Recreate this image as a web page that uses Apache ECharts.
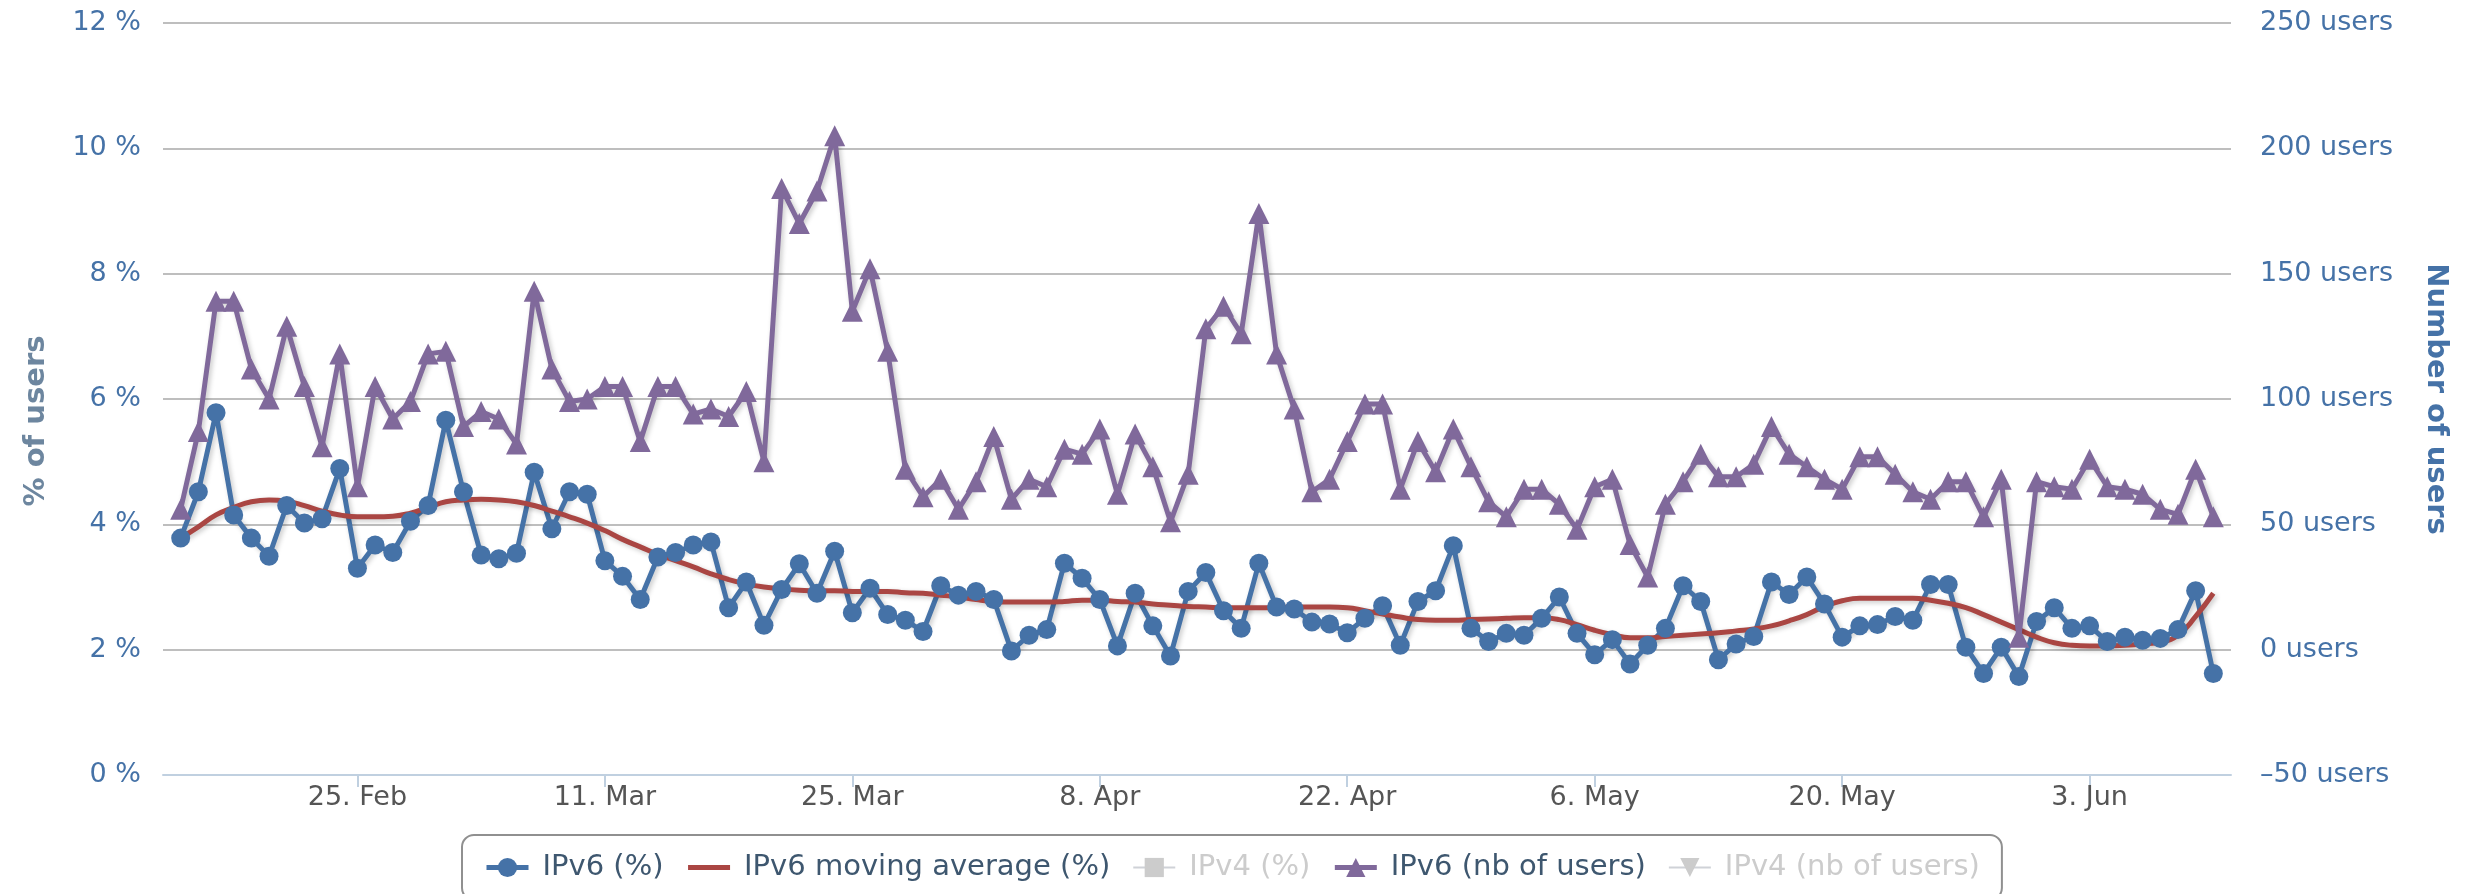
<!DOCTYPE html>
<html>
<head>
<meta charset="UTF-8">
<title>IPv6 users</title>
<style>
    html, body { margin: 0; padding: 0; background: #fff; }
    #chart { width: 2476px; height: 894px; }
</style>
<script src="https://cdn.jsdelivr.net/npm/echarts@6/dist/echarts.min.js"></script>
</head>
<body>
<div id="chart"></div>
<script>
    // one point per day, 15 Feb -> 10 Jun 2013
    // the axis runs one day wider on each side
    var firstDay = Date.UTC(2013, 1, 14);
    var dayCount = 118;

    var tickDates = ['2013-02-25', '2013-03-11', '2013-03-25', '2013-04-08', '2013-04-22', '2013-05-06', '2013-05-20', '2013-06-03'];
    var tickLabels = ['25. Feb', '11. Mar', '25. Mar', '8. Apr', '22. Apr', '6. May', '20. May', '3. Jun'];

    var ipv6Pct = [
        3.78, 4.52, 5.78, 4.15, 3.78, 3.49, 4.30, 4.02, 4.09, 4.89, 3.30, 3.67, 3.55, 4.05, 4.30, 5.66, 4.52, 3.51, 3.45, 3.54,
        4.83, 3.93, 4.52, 4.48, 3.42, 3.17, 2.80, 3.48, 3.55, 3.67, 3.72, 2.67, 3.08, 2.39, 2.96, 3.37, 2.90, 3.57, 2.59, 2.98,
        2.56, 2.47, 2.29, 3.02, 2.87, 2.93, 2.80, 1.98, 2.23, 2.32, 3.38, 3.14, 2.80, 2.06, 2.90, 2.38, 1.90, 2.93, 3.23, 2.62,
        2.34, 3.38, 2.68, 2.65, 2.44, 2.41, 2.27, 2.50, 2.70, 2.07, 2.77, 2.94, 3.66, 2.34, 2.13, 2.26, 2.23, 2.50, 2.84, 2.26,
        1.92, 2.16, 1.77, 2.07, 2.34, 3.02, 2.77, 1.84, 2.09, 2.21, 3.08, 2.88, 3.16, 2.73, 2.20, 2.38, 2.40, 2.53, 2.47, 3.04,
        3.04, 2.04, 1.62, 2.04, 1.57, 2.45, 2.67, 2.34, 2.38, 2.13, 2.20, 2.15, 2.18, 2.32, 2.94, 1.62
    ];

    var ipv6Avg = [
        3.78, 3.96, 4.15, 4.27, 4.36, 4.39, 4.37, 4.30, 4.21, 4.15, 4.12, 4.12, 4.13, 4.18, 4.27, 4.36, 4.39, 4.40, 4.39, 4.36,
        4.30, 4.21, 4.12, 4.02, 3.90, 3.76, 3.64, 3.52, 3.42, 3.32, 3.21, 3.12, 3.05, 3.00, 2.97, 2.95, 2.94, 2.94, 2.93, 2.93,
        2.93, 2.91, 2.90, 2.87, 2.84, 2.80, 2.77, 2.76, 2.76, 2.76, 2.77, 2.79, 2.79, 2.77, 2.76, 2.73, 2.71, 2.69, 2.68, 2.67,
        2.67, 2.67, 2.67, 2.68, 2.68, 2.68, 2.67, 2.62, 2.57, 2.52, 2.48, 2.47, 2.47, 2.48, 2.49, 2.50, 2.51, 2.51, 2.48, 2.40,
        2.31, 2.24, 2.19, 2.19, 2.21, 2.23, 2.25, 2.27, 2.30, 2.33, 2.38, 2.46, 2.56, 2.69, 2.78, 2.82, 2.82, 2.82, 2.82, 2.79,
        2.74, 2.67, 2.56, 2.44, 2.32, 2.20, 2.11, 2.07, 2.06, 2.06, 2.07, 2.09, 2.12, 2.23, 2.53, 2.90
    ];

    var ipv6Users = [
        56, 87, 139, 139, 112, 100, 129, 105, 81, 118, 65, 105, 92, 99, 118, 119, 89, 95, 92, 82,
        143, 112, 99, 100, 105, 105, 83, 105, 105, 94, 96, 93, 103, 75, 184, 170, 183, 205, 135, 152,
        119, 72, 61, 68, 56, 67, 85, 60, 68, 65, 80, 78, 88, 62, 86, 73, 51, 70, 128, 137,
        126, 174, 118, 96, 63, 68, 83, 98, 98, 64, 83, 71, 88, 73, 59, 53, 64, 64, 58, 48,
        65, 68, 42, 29, 58, 67, 78, 69, 69, 74, 89, 78, 73, 68, 64, 77, 77, 70, 63, 60,
        67, 67, 53, 68, 5, 67, 65, 64, 76, 65, 64, 62, 56, 54, 72, 53
    ];

    // IPv4 series are switched off in the legend, no values shown
    var ipv4Pct = [];
    var ipv4Users = [];

    var days = [];
    for (var d = 0; d < dayCount; d++) {
        days.push(new Date(firstDay + d * 86400000).toISOString().slice(0, 10));
    }

    function onDays(values) {
        return values.map(function (v, i) { return [days[i + 1], v]; });
    }

    function isTick(index, value) {
        return tickDates.indexOf(value) >= 0;
    }

    var shadow = {
        shadowColor: 'rgba(0, 0, 0, 0.22)',
        shadowBlur: 5,
        shadowOffsetX: 2,
        shadowOffsetY: 2
    };

    var chart = echarts.init(document.getElementById('chart'));

    var option = {
        animation: false,
        textStyle: { fontFamily: 'DejaVu Sans' },
        grid: { left: 163, right: 245, top: 23, bottom: 119, containLabel: false },
        legend: {
            left: 462,
            top: 835,
            padding: [18, 22, 18, 22],
            itemGap: 22,
            itemWidth: 42,
            itemHeight: 24,
            borderColor: '#909090',
            borderWidth: 2,
            borderRadius: 12,
            inactiveColor: '#CCCCCC',
            lineStyle: { width: 5, shadowBlur: 0 },
            textStyle: { fontSize: 29, color: '#3E576F', padding: [0, 0, 0, 9] },
            data: [
                'IPv6 (%)',
                // plain line in the legend, no marker
                { name: 'IPv6 moving average (%)', itemStyle: { opacity: 0 } },
                'IPv4 (%)',
                'IPv6 (nb of users)',
                'IPv4 (nb of users)'
            ],
            selected: { 'IPv4 (%)': false, 'IPv4 (nb of users)': false }
        },
        xAxis: {
            type: 'category',
            data: days,
            boundaryGap: false,
            axisLine: { lineStyle: { color: '#C0D0E0', width: 2 } },
            axisTick: { interval: isTick, length: 12, lineStyle: { color: '#C0D0E0', width: 2 } },
            axisLabel: {
                interval: isTick,
                margin: 9,
                fontSize: 27,
                color: '#555555',
                formatter: function (value) { return tickLabels[tickDates.indexOf(value)]; }
            },
            splitLine: { show: false }
        },
        yAxis: [
            {
                type: 'value',
                position: 'left',
                min: 0,
                max: 12,
                interval: 2,
                name: '% of users',
                nameLocation: 'middle',
                nameRotate: 90,
                nameGap: 112,
                nameTextStyle: { color: '#6D869F', fontSize: 29, fontWeight: 'bold', padding: [0, 44, 0, 0] },
                axisLine: { show: false },
                axisTick: { show: false },
                axisLabel: { formatter: '{value} %', color: '#4572A7', fontSize: 27, margin: 22 },
                splitLine: { lineStyle: { color: '#BEBEBE', width: 2 } }
            },
            {
                type: 'value',
                position: 'right',
                min: -50,
                max: 250,
                interval: 50,
                name: 'Number of users',
                nameLocation: 'middle',
                nameRotate: -90,
                nameGap: 190,
                nameTextStyle: { color: '#4572A7', fontSize: 29, fontWeight: 'bold' },
                axisLine: { show: false },
                axisTick: { show: false },
                axisLabel: {
                    color: '#4572A7',
                    fontSize: 27,
                    margin: 29,
                    formatter: function (v) { return (v < 0 ? '\u2013' + (-v) : v) + ' users'; }
                },
                splitLine: { show: false }
            }
        ],
        series: [
            {
                name: 'IPv6 (%)',
                type: 'line',
                yAxisIndex: 0,
                data: onDays(ipv6Pct),
                symbol: 'circle',
                symbolSize: 19,
                showAllSymbol: true,
                color: '#4572A7',
                lineStyle: Object.assign({ width: 5 }, shadow),
                emphasis: { disabled: true }
            },
            {
                name: 'IPv6 moving average (%)',
                type: 'line',
                yAxisIndex: 0,
                data: onDays(ipv6Avg),
                smooth: true,
                symbol: 'none',
                color: '#AA4643',
                lineStyle: Object.assign({ width: 5 }, shadow),
                emphasis: { disabled: true }
            },
            {
                name: 'IPv4 (%)',
                type: 'line',
                yAxisIndex: 0,
                data: onDays(ipv4Pct),
                symbol: 'rect',
                symbolSize: 17,
                color: '#89A54E',
                lineStyle: { width: 5 }
            },
            {
                name: 'IPv6 (nb of users)',
                type: 'line',
                yAxisIndex: 1,
                data: onDays(ipv6Users),
                symbol: 'triangle',
                symbolSize: 21,
                showAllSymbol: true,
                color: '#80699B',
                lineStyle: Object.assign({ width: 5 }, shadow),
                emphasis: { disabled: true }
            },
            {
                name: 'IPv4 (nb of users)',
                type: 'line',
                yAxisIndex: 1,
                data: onDays(ipv4Users),
                symbol: 'triangle',
                symbolRotate: 180,
                symbolSize: 21,
                color: '#3D96AE',
                lineStyle: { width: 5 }
            }
        ]
    };

    chart.setOption(option);
</script>
</body>
</html>
